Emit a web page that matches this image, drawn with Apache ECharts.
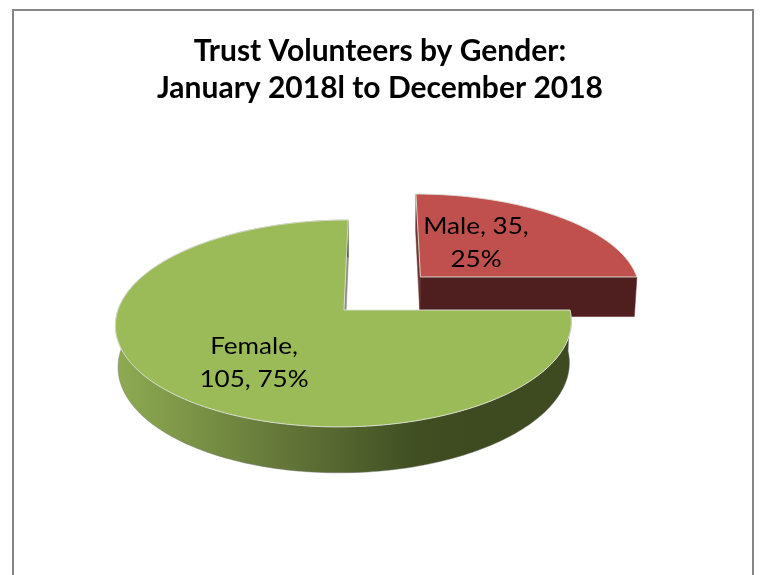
<!DOCTYPE html>
<html>
<head>
<meta charset="utf-8">
<title>Trust Volunteers by Gender</title>
<style>html,body{margin:0;padding:0;background:#fff}#chart{width:760px;height:575px}</style>
<script src="https://cdn.jsdelivr.net/npm/echarts@6/dist/echarts.min.js"></script>
</head>
<body>
<div id="chart"></div>
<script>
// Volunteer counts per gender
const categories = ['Male', 'Female'];
const volunteers = [35, 105];
const labelBreaks = [2, 1];                 // parts of each label placed on its first line

// Pie geometry: a tilted disc seen in perspective
const apex = [344, 310], vanishX = 380;
const radiusX = 226, radiusY = 101.7, tilt = 0.13;
const rimDepth = 41, floorScale = 0.99;
const explode = [[0.346, 0.339], [0, 0]];   // plane offset of each slice
const labelSpots = [[476, 243], [254, 363]];
const topColors = ['#C0504D', '#9BBB59'];

const total = volunteers.reduce((a, b) => a + b, 0);

// Maps a point on the disc plane (u right, v away) to the screen, at the top or the floor of the rim
function project(u, v, floor) {
  const w = 1 + tilt * v, s = floor ? floorScale : 1;
  return [
    vanishX + s * (apex[0] - vanishX + radiusX * u) / w,
    apex[1] + (-s * radiusY * v + (floor ? rimDepth : 0)) / w
  ];
}

function arcPoints(a0, a1, off, floor) {
  const pts = [], n = Math.ceil(Math.abs(a1 - a0) / 0.02);
  for (let i = 0; i <= n; i++) {
    const a = a0 + (a1 - a0) * i / n;
    pts.push(project(off[0] + Math.sin(a), off[1] + Math.cos(a), floor));
  }
  return pts;
}

function wall(p, q, a, b, fill) {
  return { type: 'polygon', shape: { points: [p, q, b, a] }, style: { fill: fill, stroke: fill, lineWidth: 0.5 } };
}

function renderSlice(params, api) {
  const i = params.dataIndex, value = api.value(0);
  let before = 0;
  for (let k = 0; k < i; k++) before += volunteers[k];
  const a0 = before / total * 2 * Math.PI, a1 = (before + value) / total * 2 * Math.PI;
  const off = explode[i];
  const top = arcPoints(a0, a1, off, false), floor = arcPoints(a0, a1, off, true);
  const ap = project(off[0], off[1], false), apf = project(off[0], off[1], true);
  const children = [];

  if (i === 0) {
    // back slice: thin left wall, flat front wall facing the viewer
    children.push(wall(ap, top[0], apf, floor[0], '#6e3533'));
    children.push(wall(ap, top[top.length - 1], apf, floor[floor.length - 1], '#4E1F1E'));
  } else {
    // front slice: inner wall sliver, then the curved rim with its left-to-right shading
    children.push(wall(ap, top[top.length - 1], apf, floor[floor.length - 1], '#8b8b80'));
    children.push({
      type: 'polygon',
      shape: { points: top.concat(floor.slice().reverse()) },
      style: {
        fill: new echarts.graphic.LinearGradient(116, 0, 470, 0, [
          { offset: 0, color: '#8EAB52' },
          { offset: 0.45, color: '#66793A' },
          { offset: 0.85, color: '#404E22' },
          { offset: 1, color: '#3E4B20' }
        ], true),
        stroke: 'rgba(120,120,125,0.45)',
        lineWidth: 1
      }
    });
  }
  // top face
  children.push({
    type: 'polygon',
    shape: { points: [ap].concat(top) },
    style: { fill: topColors[i], stroke: 'rgba(222,226,214,0.9)', lineWidth: 1 }
  });
  return { type: 'group', children: children };
}

function labelText(i) {
  const parts = [categories[i], String(volunteers[i]), Math.round(volunteers[i] / total * 100) + '%'];
  return parts.slice(0, labelBreaks[i]).join(', ') + ',\n' + parts.slice(labelBreaks[i]).join(', ');
}

const chart = echarts.init(document.getElementById('chart'), null, { renderer: 'canvas' });
chart.setOption({
  animation: false,
  backgroundColor: '#fff',
  title: {
    text: 'Trust Volunteers by Gender:\nJanuary 2018l to December 2018',
    left: 'center',
    top: 28,
    padding: [5, 0, 5, 7],
    textStyle: { fontFamily: 'Lato', fontWeight: 'bold', fontSize: 30, lineHeight: 37, color: '#000' }
  },
  graphic: [{
    type: 'rect', silent: true, z: -1,
    shape: { x: 13, y: 10, width: 740, height: 580 },
    style: { fill: '#fff', stroke: '#868686', lineWidth: 2 }
  }].concat(categories.map((c, i) => ({
    type: 'text', z: 10, silent: true,
    x: labelSpots[i][0], y: labelSpots[i][1],
    scaleX: 1.16,
    style: {
      text: labelText(i), fill: '#000', align: 'center', verticalAlign: 'middle',
      font: '22.5px Lato', lineHeight: 33
    }
  }))),
  xAxis: { show: false }, yAxis: { show: false },
  series: [{
    type: 'custom',
    coordinateSystem: 'none',
    renderItem: renderSlice,
    data: volunteers.map((v, i) => ({ name: categories[i], value: [v] }))
  }]
});
</script>
</body>
</html>
